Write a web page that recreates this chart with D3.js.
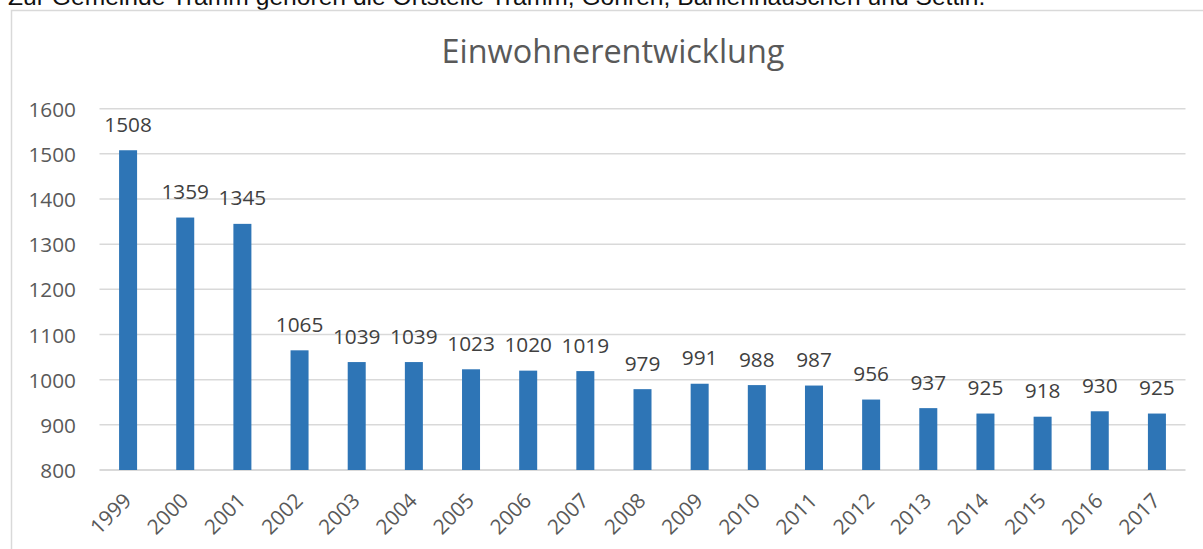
<!DOCTYPE html>
<html>
<head>
<meta charset="utf-8">
<script src="https://cdn.jsdelivr.net/npm/d3@7"></script>
<style>
  html, body { margin: 0; padding: 0; background: #fff; overflow: hidden; }
  svg { display: block; }
</style>
</head>
<body>
<svg id="chart" width="1203" height="549"></svg>
<script>
const years = ["1999","2000","2001","2002","2003","2004","2005","2006","2007","2008","2009","2010","2011","2012","2013","2014","2015","2016","2017"];
const population = [1508,1359,1345,1065,1039,1039,1023,1020,1019,979,991,988,987,956,937,925,918,930,925];
const yTicks = [800,900,1000,1100,1200,1300,1400,1500,1600];
const titleText = "Einwohnerentwicklung";
const captionText = "Zur Gemeinde Tramm gehören die Ortsteile Tramm, Göhren, Bahlenhäuschen und Settin.";

const svg = d3.select("#chart");
const FONT = "'Open Sans', 'Noto Sans', sans-serif";
const LABEL_SIZE = 20.8;

function fitText(sel, targetWidth, baseSize) {
  sel.attr("font-size", baseSize);
  const w = sel.node().getComputedTextLength();
  sel.attr("font-size", baseSize * targetWidth / w);
}

// caption above the chart (clipped at the top, as in the source page)
const cap = svg.append("text")
  .attr("x", 8).attr("y", 5)
  .attr("font-family", "'Liberation Sans', Arial, sans-serif")
  .attr("fill", "#111")
  .text(captionText);
fitText(cap, 978, 20);

// chart border
svg.append("path")
  .attr("d", "M11.5,560 V10.5 H1215")
  .attr("fill", "none")
  .attr("stroke", "#d9d9d9")
  .attr("stroke-width", 1.5);

const x = d3.scaleBand().domain(years).range([99.5, 1185.5]).paddingInner(0.685).paddingOuter(0.3425);
const y = d3.scaleLinear().domain([800, 1600]).range([470, 108.7]);

// gridlines
svg.append("g")
  .selectAll("line")
  .data(yTicks)
  .join("line")
  .attr("x1", 99.5).attr("x2", 1185.5)
  .attr("y1", d => y(d)).attr("y2", d => y(d))
  .attr("stroke", "#d9d9d9")
  .attr("stroke-width", d => d === 800 ? 2 : 1.5);

// y axis labels
const yAxis = d3.axisLeft(y).tickValues(yTicks).tickFormat(d3.format("d")).tickSize(0).tickPadding(0);
const gy = svg.append("g").attr("transform", "translate(76,0)").call(yAxis);
gy.select(".domain").remove();
gy.selectAll("text")
  .attr("font-family", FONT)
  .attr("font-size", LABEL_SIZE)
  .attr("fill", "#595959")
  .attr("dy", "0.36em")
  .attr("x", 0);

// bars
svg.append("g")
  .selectAll("rect")
  .data(population)
  .join("rect")
  .attr("x", (d, i) => x(years[i]))
  .attr("width", x.bandwidth())
  .attr("y", d => y(d))
  .attr("height", d => y(800) - y(d))
  .attr("fill", "#2e75b6");

// data labels
svg.append("g")
  .selectAll("text")
  .data(population)
  .join("text")
  .attr("x", (d, i) => x(years[i]) + x.bandwidth() / 2)
  .attr("y", d => y(d) - 18.5)
  .attr("text-anchor", "middle")
  .attr("font-family", FONT)
  .attr("font-size", LABEL_SIZE)
  .attr("fill", "#404040")
  .text(d => d);

// x axis labels
const xAxis = d3.axisBottom(x).tickSize(0).tickPadding(0);
const gx = svg.append("g").attr("transform", "translate(0,470)").call(xAxis);
gx.select(".domain").remove();
gx.selectAll(".tick text")
  .attr("font-family", FONT)
  .attr("font-size", LABEL_SIZE)
  .attr("fill", "#595959")
  .attr("text-anchor", "end")
  .attr("y", 0).attr("dy", 0)
  .attr("transform", "translate(4.5,32) rotate(-45)");

// title
const title = svg.append("text")
  .attr("x", 613).attr("y", 63)
  .attr("text-anchor", "middle")
  .attr("font-family", FONT)
  .attr("fill", "#595959")
  .text(titleText);
fitText(title, 343, 28);
</script>
</body>
</html>
